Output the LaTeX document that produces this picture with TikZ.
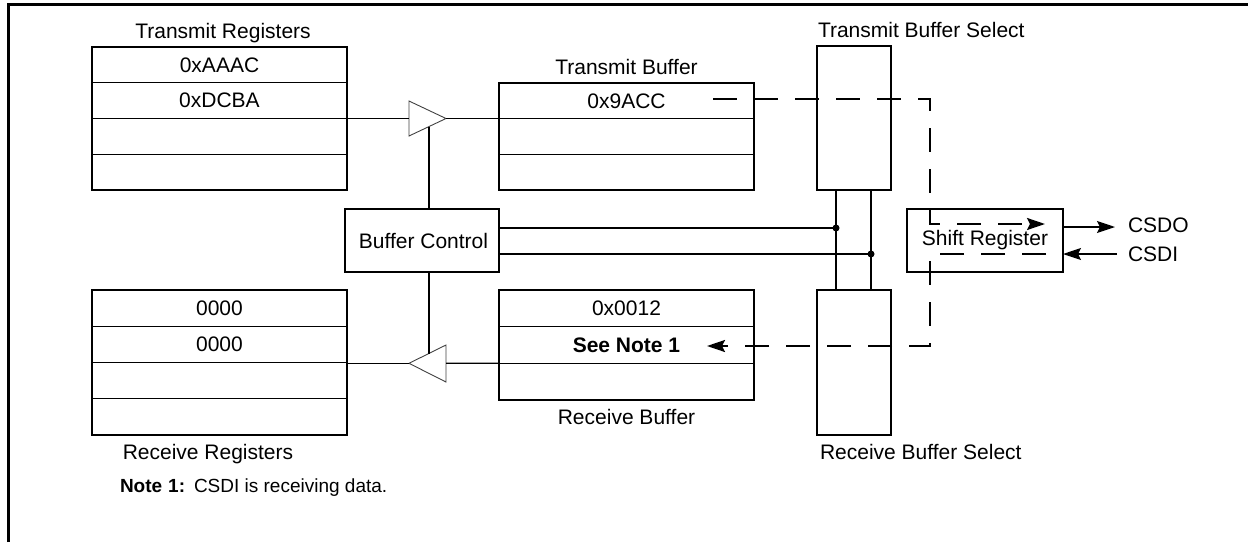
\documentclass[tikz,border=0pt]{standalone}
\usepackage{fontspec}
\setmainfont{Liberation Sans}
\usetikzlibrary{arrows.meta}
\begin{document}
\begin{tikzpicture}[x=1pt,y=-1pt,
  lbl/.style={font=\fontsize{21}{24}\selectfont, inner sep=0pt, outer sep=0pt},
  notetxt/.style={font=\fontsize{19}{22}\selectfont, inner sep=0pt, outer sep=0pt, anchor=base west},
  cell/.style={draw, line width=1.3pt, minimum width=255pt, inner sep=0pt, outer sep=0pt,
    anchor=north west, font=\fontsize{21}{24}\selectfont},
  blk/.style={draw, line width=1.3pt, inner sep=0pt, outer sep=0pt, anchor=north west,
    font=\fontsize{21}{24}\selectfont},
  wire/.style={line width=1.3pt},
  amp/.style={draw=black!75, line width=0.9pt},
  flow/.style={line width=2.2pt, dash pattern=on 24pt off 17pt},
  tip/.style={-{Stealth[length=18pt,width=12pt,inset=3pt]}},
  jdot/.style={circle, fill, inner sep=0pt, minimum size=7pt}
]
\useasboundingbox (0,0) rectangle (1248,542);
\draw[line width=2.5pt] (8.3,542) -- (8.3,4.5) -- (1248,4.5);

% Transmit registers
\node[cell, minimum height=35.75pt] (tr1) at (92,47) {0xAAAC};
\node[cell, minimum height=35.75pt] (tr2) at (92,82.75) {0xDCBA};
\node[cell, minimum height=35.75pt] (tr3) at (92,118.5) {};
\node[cell, minimum height=35.75pt] (tr4) at (92,154.25) {};
\node[lbl, anchor=base] (trl) at (223,38) {Transmit Registers};

% Transmit buffer
\node[cell, minimum height=35.67pt] (tb1) at (499,83) {0x9ACC};
\node[cell, minimum height=35.67pt] (tb2) at (499,118.67) {};
\node[cell, minimum height=35.67pt] (tb3) at (499,154.33) {};
\node[lbl, anchor=base] (tbl) at (626.5,74) {Transmit Buffer};

% Receive registers
\node[cell, minimum height=36.25pt] (rr1) at (92,290) {0000};
\node[cell, minimum height=36.25pt] (rr2) at (92,326.25) {0000};
\node[cell, minimum height=36.25pt] (rr3) at (92,362.5) {};
\node[cell, minimum height=36.25pt] (rr4) at (92,398.75) {};
\node[lbl, anchor=base] (rrl) at (208,459) {Receive Registers};

% Receive buffer
\node[cell, minimum height=36.67pt] (rb1) at (499,290) {0x0012};
\node[cell, minimum height=36.67pt] (rb2) at (499,326.67) {\bfseries See Note 1};
\node[cell, minimum height=36.67pt] (rb3) at (499,363.33) {};
\node[lbl, anchor=base] (rbl) at (626.5,424) {Receive Buffer};

% Buffer select blocks
\node[blk, minimum width=74pt, minimum height=144pt] (tbs) at (817,46) {};
\node[lbl, anchor=base west] (tbsl) at (818,37) {Transmit Buffer Select};
\node[blk, minimum width=74pt, minimum height=145pt] (rbs) at (817,290) {};
\node[lbl, anchor=base west] (rbsl) at (820,459) {Receive Buffer Select};

% Buffer control and shift register
\node[blk, minimum width=154pt, minimum height=63pt] (bc) at (345,209) {\hspace*{3pt}Buffer Control};
\node[blk, minimum width=156pt, minimum height=63pt] (sr) at (907,209) {Shift Register};

% Amplifiers
\draw[amp] (409,101) -- (446,118.5) -- (409,136) -- cycle;
\coordinate (tain) at (409,118.5);
\coordinate (taout) at (446,118.5);
\coordinate (tactl) at (429,126.5);
\draw[amp] (446,345) -- (409,363.3) -- (446,382) -- cycle;
\coordinate (rain) at (409,363.3);
\coordinate (raout) at (446,363.3);
\coordinate (ractl) at (429,353.6);

\draw[wire] (tr3.north east) -- (tain);
\draw[wire] (taout) -- (taout -| tb2.west);
\draw[wire] (tactl) -- (tactl |- bc.north);
\draw[wire] (ractl) -- (ractl |- bc.south);
\draw[wire] (rb3.north west) -- (raout);
\draw[wire] (rain) -- (rain -| rr3.east);

% Select lines
\coordinate (j1) at (836,228);
\coordinate (j2) at (871,254);
\draw[wire] (bc.east |- j1) -- (j1);
\draw[wire] (bc.east |- j2) -- (j2);
\draw[wire] (j1 |- tbs.south) -- (j1 |- rbs.north);
\draw[wire] (j2 |- tbs.south) -- (j2 |- rbs.north);
\node[jdot] (d1) at (j1) {};
\node[jdot] (d2) at (j2) {};

% Serial pins
\node[lbl, anchor=base west] (csdo) at (1128,232) {CSDO};
\node[lbl, anchor=base west] (csdi) at (1128,261) {CSDI};
\draw[wire, tip] (sr.east |- 0,227) -- (1115,227);
\draw[wire, tip] (1117,254) -- (sr.east |- 0,254);

% Data flow
\draw[flow, tip] (713,99) -- (930,99) -- (930,224) -- (1045,224);
\draw[flow, tip] (1046,254) -- (930,254) -- (930,346) -- (707,346);

% Note
\node[notetxt, font=\bfseries\fontsize{19}{22}\selectfont] (note) at (120,492) {Note\hspace{6pt}1:};
\node[notetxt] (notet) at (194,492) {CSDI is receiving data.};
\end{tikzpicture}
\end{document}
